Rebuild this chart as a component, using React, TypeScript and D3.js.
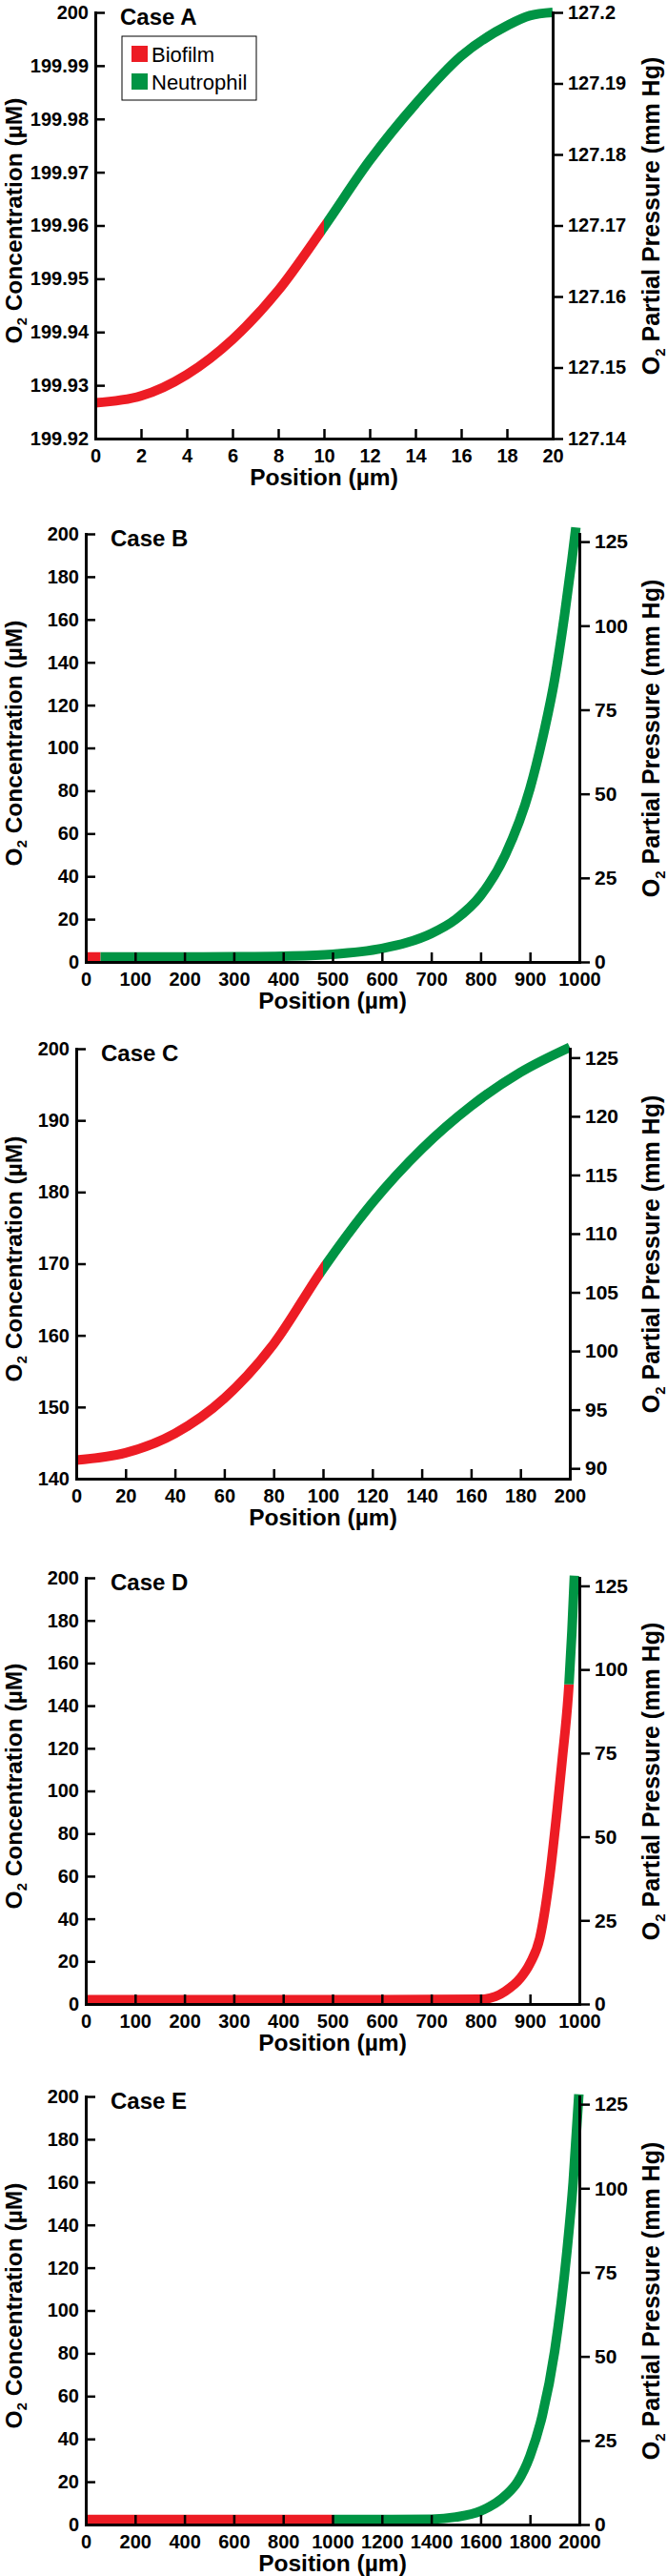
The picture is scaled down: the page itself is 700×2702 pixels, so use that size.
'use client';

import * as d3 from 'd3';
import { useEffect, useRef } from 'react';

type Pt = [number, number]; // [position µm, O2 µM]

// ---- Case A (0–20 µm) ----
const caseABiofilm: Pt[] = [
  [0, 199.9267], [2, 199.928], [4, 199.932], [6, 199.9386], [8, 199.9478], [10, 199.9597],
];
const caseANeutrophil: Pt[] = [
  [10, 199.9597], [12, 199.9722], [14, 199.9828], [16, 199.9918], [18, 199.9975], [19, 199.9994], [20, 200.0],
];
const caseAXTicks = ['0', '2', '4', '6', '8', '10', '12', '14', '16', '18', '20'];
const caseAYTicks = ['199.92', '199.93', '199.94', '199.95', '199.96', '199.97', '199.98', '199.99', '200'];
const caseARTicks = ['127.14', '127.15', '127.16', '127.17', '127.18', '127.19', '127.2'];

// ---- Case B (0–1000 µm) ----
const caseBBiofilm: Pt[] = [[0, 2.3], [30, 2.3]];
const caseBNeutrophil: Pt[] = [
  [30, 2.3], [100, 2.3], [200, 2.3], [300, 2.4], [400, 2.7], [500, 3.6], [600, 6.3], [650, 9],
  [700, 13.3], [750, 20], [800, 31], [850, 50], [900, 81], [925, 104], [950, 132], [970, 162],
  [985, 188], [993, 203],
];
const caseBXTicks = ['0', '100', '200', '300', '400', '500', '600', '700', '800', '900', '1000'];
const concTicks = ['0', '20', '40', '60', '80', '100', '120', '140', '160', '180', '200'];
const pressTicks = ['0', '25', '50', '75', '100', '125'];

// ---- Case C (0–200 µm) ----
const caseCBiofilm: Pt[] = [[0, 142.6], [20, 143.6], [40, 146.3], [60, 151.2], [80, 158.8], [100, 169.3]];
const caseCNeutrophil: Pt[] = [[100, 169.3], [120, 178.5], [140, 186], [160, 192], [180, 196.7], [200, 200.2]];
const caseCXTicks = ['0', '20', '40', '60', '80', '100', '120', '140', '160', '180', '200'];
const caseCYTicks = ['140', '150', '160', '170', '180', '190', '200'];
const caseCRTicks = ['90', '95', '100', '105', '110', '115', '120', '125'];

// ---- Case D (0–1000 µm) ----
const caseDBiofilm: Pt[] = [
  [0, 2], [200, 2], [400, 2], [600, 2], [800, 2.2], [830, 3.5], [850, 6], [880, 12], [900, 19],
  [920, 31], [940, 60], [955, 91], [965, 114], [979, 150],
];
const caseDNeutrophil: Pt[] = [[979, 150], [985, 175], [990, 201]];

// ---- Case E (0–2000 µm) ----
const caseEBiofilm: Pt[] = [[0, 2.3], [500, 2.3], [1000, 2.3]];
const caseENeutrophil: Pt[] = [
  [1000, 2.3], [1200, 2.3], [1400, 2.5], [1500, 3.5], [1600, 6.3], [1700, 13.5], [1750, 20],
  [1800, 32], [1850, 51], [1900, 81], [1950, 128], [1975, 160], [1998, 201],
];
const caseEXTicks = ['0', '200', '400', '600', '800', '1000', '1200', '1400', '1600', '1800', '2000'];

const RED = '#ED1C24';
const GREEN = '#009444';
const FONT = "'Liberation Sans', Arial, Helvetica, sans-serif";

type Panel = {
  label: string;
  left: number; right: number; top: number; bottom: number;
  xDomain: [number, number]; yDomain: [number, number]; rDomain: [number, number];
  xTicks: string[]; yTicks: string[]; rTicks: string[];
  biofilm: Pt[]; neutrophil: Pt[];
  split: ['x' | 'y', number];
  rightFont: number;
  legend?: boolean;
};

const panels: Panel[] = [
  {
    label: 'Case A', left: 100, right: 580, top: 13, bottom: 460,
    xDomain: [0, 20], yDomain: [199.92, 200], rDomain: [127.14, 127.2],
    xTicks: caseAXTicks, yTicks: caseAYTicks, rTicks: caseARTicks,
    biofilm: caseABiofilm, neutrophil: caseANeutrophil, split: ['x', 10], rightFont: 20, legend: true,
  },
  {
    label: 'Case B', left: 90, right: 608, top: 560, bottom: 1009,
    xDomain: [0, 1000], yDomain: [0, 200], rDomain: [0, 127.3],
    xTicks: caseBXTicks, yTicks: concTicks, rTicks: pressTicks,
    biofilm: caseBBiofilm, neutrophil: caseBNeutrophil, split: ['x', 30], rightFont: 21,
  },
  {
    label: 'Case C', left: 80, right: 598, top: 1100, bottom: 1551,
    xDomain: [0, 200], yDomain: [140, 200], rDomain: [89.12, 125.76],
    xTicks: caseCXTicks, yTicks: caseCYTicks, rTicks: caseCRTicks,
    biofilm: caseCBiofilm, neutrophil: caseCNeutrophil, split: ['x', 100], rightFont: 21,
  },
  {
    label: 'Case D', left: 90, right: 608, top: 1655, bottom: 2102,
    xDomain: [0, 1000], yDomain: [0, 200], rDomain: [0, 127.4],
    xTicks: caseBXTicks, yTicks: concTicks, rTicks: pressTicks,
    biofilm: caseDBiofilm, neutrophil: caseDNeutrophil, split: ['y', 150], rightFont: 21,
  },
  {
    label: 'Case E', left: 90, right: 608, top: 2199, bottom: 2648,
    xDomain: [0, 2000], yDomain: [0, 200], rDomain: [0, 127.3],
    xTicks: caseEXTicks, yTicks: concTicks, rTicks: pressTicks,
    biofilm: caseEBiofilm, neutrophil: caseENeutrophil, split: ['x', 1000], rightFont: 21,
  },
];

export default function App() {
  const svgRef = useRef<SVGSVGElement | null>(null);

  useEffect(() => {
    if (!svgRef.current) return;
    const svg = d3.select(svgRef.current);
    svg.selectAll('*').remove();
    svg.attr('font-family', FONT);
    const defs = svg.append('defs');

    // rotated title with subscript "2"
    const o2Title = (g: any, x: number, y: number, rest: string, size: number) => {
      const t = g.append('text')
        .attr('transform', `translate(${x},${y}) rotate(-90)`)
        .attr('text-anchor', 'middle')
        .attr('font-size', size)
        .attr('font-weight', 'bold')
        .attr('fill', '#000');
      t.append('tspan').text('O');
      t.append('tspan').attr('font-size', size * 0.6).attr('dy', size * 0.22).text('2');
      t.append('tspan').attr('dy', -size * 0.22).text('\u00A0' + rest);
    };

    panels.forEach((p, i) => {
      const x = d3.scaleLinear().domain(p.xDomain).range([p.left, p.right]);
      const y = d3.scaleLinear().domain(p.yDomain).range([p.bottom, p.top]);
      const yr = d3.scaleLinear().domain(p.rDomain).range([p.bottom, p.top]);
      const g = svg.append('g');

      // clip regions: biofilm / neutrophil parts of one continuous curve
      const pad = 40;
      const bioId = `bio-${i}`, neuId = `neu-${i}`;
      if (p.split[0] === 'x') {
        const sx = x(p.split[1]);
        defs.append('clipPath').attr('id', bioId).append('rect')
          .attr('x', 0).attr('y', p.top - pad).attr('width', sx).attr('height', p.bottom - p.top + 2 * pad);
        defs.append('clipPath').attr('id', neuId).append('rect')
          .attr('x', sx).attr('y', p.top - pad).attr('width', 700 - sx).attr('height', p.bottom - p.top + 2 * pad);
      } else {
        const sy = y(p.split[1]);
        defs.append('clipPath').attr('id', bioId).append('rect')
          .attr('x', 0).attr('y', sy).attr('width', 700).attr('height', p.bottom + pad - sy);
        defs.append('clipPath').attr('id', neuId).append('rect')
          .attr('x', 0).attr('y', p.top - pad).attr('width', 700).attr('height', sy - p.top + pad);
      }

      const full = p.biofilm.concat(p.neutrophil.slice(1));
      const line = d3.line<Pt>().x(d => x(d[0])).y(d => y(d[1])).curve(d3.curveMonotoneX);

      g.append('path').attr('d', line(full)).attr('fill', 'none')
        .attr('stroke', RED).attr('stroke-width', 10).attr('clip-path', `url(#${bioId})`);
      g.append('path').attr('d', line(full)).attr('fill', 'none')
        .attr('stroke', GREEN).attr('stroke-width', 10).attr('clip-path', `url(#${neuId})`);

      // axes
      const styleAxis = (a: any, size: number) => {
        a.attr('font-family', FONT).attr('font-size', size).attr('font-weight', 'bold');
        a.select('.domain').attr('stroke', '#000').attr('stroke-width', 3).attr('stroke-linecap', 'square');
        a.selectAll('.tick line').attr('stroke', '#000').attr('stroke-width', 2.5);
        a.selectAll('.tick text').attr('fill', '#000');
      };

      const left = g.append('g').attr('transform', `translate(${p.left},0)`)
        .call(d3.axisLeft(y).tickValues(p.yTicks.map(Number))
          .tickFormat((_d, k) => p.yTicks[k]).tickSizeInner(-10).tickSizeOuter(0).tickPadding(7));
      styleAxis(left, 20);

      const right = g.append('g').attr('transform', `translate(${p.right},0)`)
        .call(d3.axisRight(yr).tickValues(p.rTicks.map(Number))
          .tickFormat((_d, k) => p.rTicks[k]).tickSizeInner(11).tickSizeOuter(0).tickPadding(5));
      styleAxis(right, p.rightFont);

      const bottom = g.append('g').attr('transform', `translate(0,${p.bottom})`)
        .call(d3.axisBottom(x).tickValues(p.xTicks.map(Number))
          .tickFormat((_d, k) => p.xTicks[k]).tickSizeInner(-10).tickSizeOuter(0).tickPadding(11));
      styleAxis(bottom, 20);

      // titles
      g.append('text').attr('x', (p.left + p.right) / 2).attr('y', p.bottom + 49)
        .attr('text-anchor', 'middle').attr('font-size', 24.5).attr('font-weight', 'bold')
        .text('Position (µm)');
      const cy = (p.top + p.bottom) / 2;
      o2Title(g, 22.5, cy - 5, 'Concentration (µM)', 24.5);
      o2Title(g, 692, cy - 10, 'Partial Pressure (mm Hg)', 25);

      g.append('text').attr('x', p.left + 26).attr('y', p.top + 13)
        .attr('font-size', 24).attr('font-weight', 'bold').text(p.label);

      if (p.legend) {
        const lg = g.append('g').attr('transform', `translate(${p.left + 28},${p.top + 25})`);
        lg.append('rect').attr('x', 0).attr('y', 0).attr('width', 141).attr('height', 67)
          .attr('fill', '#fff').attr('stroke', '#000').attr('stroke-width', 1);
        const items: [string, string][] = [['Biofilm', RED], ['Neutrophil', GREEN]];
        items.forEach(([name, col], k) => {
          lg.append('rect').attr('x', 10).attr('y', 10 + k * 29).attr('width', 17).attr('height', 17).attr('fill', col);
          lg.append('text').attr('x', 31).attr('y', 27 + k * 29).attr('font-size', 22).text(name);
        });
      }
    });
  }, []);

  return (
    <svg
      ref={svgRef}
      width={700}
      height={2702}
      style={{ position: 'absolute', left: 0, top: 0, background: '#fff' }}
    />
  );
}
